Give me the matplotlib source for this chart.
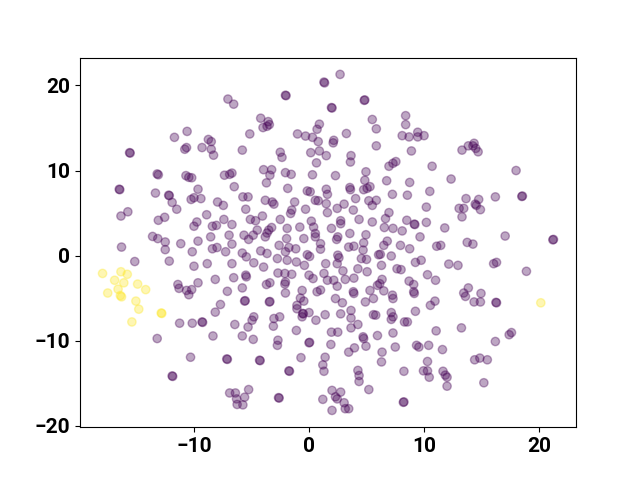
import matplotlib.pyplot as plt
import numpy as np

# t-SNE embedding
purple_pts = [
    (-10.6, 14.6), (-11.7, 13.9), (-10.65, 12.7), (-10.8, 12.5), (-9.3, 12.7), (-15.6, 12.1), (-15.55, 12.05),
    (-13.2, 9.6), (-13.1, 9.5), (-10.7, 9.4), (-10.45, 9.2), (-10.2, 9.15),
    (1.3, 20.4), (1.35, 20.3), (-2.05, 18.85), (-2.0, 18.8), (-7.05, 18.4), (-6.55, 17.8), (1.95, 17.4), (2.0, 17.35),
    (-4.2, 16.15), (-3.55, 15.75), (-4.0, 15.05), (-3.65, 15.2), (-3.45, 15.4), (-5.15, 14.3), (-1.0, 14.3),
    (-0.3, 14.05), (0.3, 13.9), (0.7, 14.85), (0.9, 15.45), (0.8, 13.4), (-8.75, 13.65), (-8.5, 13.4), (-8.5, 12.5),
    (-8.3, 11.8), (-5.8, 12.4), (-2.5, 12.15), (-2.35, 11.55), (0.15, 12.1), (0.9, 12.3), (1.5, 11.75), (0.65, 10.9),
    (-3.95, 10.1), (-3.25, 10.1), (-3.4, 9.45), (-7.35, 9.45), (-6.9, 9.55), (-6.7, 9.7), (-2.05, 9.75), (-1.55, 9.55),
    (0.3, 9.5),
    (2.7, 21.3), (4.85, 18.3), (4.8, 18.25), (5.5, 16.0), (8.4, 16.45), (8.4, 15.4), (5.85, 14.9), (3.25, 14.35),
    (8.1, 14.1), (8.7, 13.95), (9.45, 14.5), (9.45, 13.95), (10.0, 14.1), (2.15, 13.55), (2.1, 13.25), (5.85, 12.9),
    (8.9, 12.3), (3.65, 11.75), (3.6, 11.0), (7.55, 11.05), (7.3, 10.85), (6.95, 10.5), (10.7, 10.5), (4.95, 9.85),
    (4.85, 8.85), (2.3, 9.4), (6.75, 8.8), (8.75, 8.6), (12.35, 9.0),
    (13.3, 12.4), (13.85, 12.9), (14.35, 13.2), (14.25, 12.9), (14.5, 12.6), (14.7, 12.2), (18.0, 10.0),
    (-16.5, 7.8), (-16.45, 7.75), (-13.35, 7.35), (-12.2, 7.1), (-12.15, 7.05), (-11.9, 6.25), (-11.5, 5.45),
    (-16.35, 4.65), (-15.75, 5.15), (-13.1, 4.15), (-12.55, 4.5), (-9.65, 7.8), (-10.25, 6.6), (-10.0, 6.8),
    (-9.4, 6.7), (-10.0, 3.45), (-9.75, 3.95), (-13.6, 2.25), (-13.15, 2.0), (-12.5, 1.6), (-12.5, 0.7),
    (-11.15, 1.4), (-9.65, 1.7), (-10.15, 0.45), (-16.3, 1.0), (-15.15, -0.7), (-12.15, -0.65), (-10.0, -1.25),
    (-11.4, -3.4), (-11.3, -3.85), (-10.65, -4.1), (-10.2, -4.0), (-10.45, -4.6), (-9.65, -3.2),
    (-6.5, 8.1), (-3.7, 8.55), (-1.85, 7.9), (-0.15, 7.6), (0.1, 7.5), (1.5, 7.8), (1.6, 7.2), (-5.75, 6.9),
    (-5.3, 6.9), (-7.95, 6.3), (-7.45, 5.9), (-3.8, 6.5), (-3.2, 6.3), (-3.05, 6.05), (-1.25, 6.3), (-1.5, 5.35),
    (-1.6, 4.95), (-0.3, 5.45), (0.8, 6.45), (0.55, 6.5), (1.5, 6.1), (1.6, 5.05), (-5.5, 5.45), (-8.9, 4.8),
    (-7.4, 4.25), (-6.7, 3.65), (-5.1, 4.25), (-4.65, 4.1), (-4.05, 4.65), (-2.5, 4.25), (-1.9, 3.2), (-0.8, 3.35),
    (0.2, 4.05), (0.4, 3.35), (0.55, 2.6), (1.0, 1.4), (1.0, 0.75), (-8.4, 3.45), (-8.05, 3.55), (-8.55, 2.2),
    (-6.95, 2.4), (-5.65, 2.4), (-5.25, 1.9), (-4.85, 2.4), (-4.5, 3.0), (-3.65, 2.65), (-3.5, 3.0), (-3.25, 3.3),
    (-3.8, 2.2), (-1.95, 2.0), (-0.45, 2.0), (0.55, 2.2), (-8.4, 0.8), (-8.0, 0.95), (-7.25, 0.45), (-6.7, 1.35),
    (-5.8, 0.3), (-5.45, -0.15), (-4.2, 0.55), (-3.65, 0.25), (-2.6, 1.2), (-1.75, 0.95), (-1.15, 0.8),
    (-0.15, 0.1), (0.05, -0.1), (-2.05, 0.45), (-1.9, -0.55), (-8.85, -0.95), (-6.7, -0.95), (-4.8, -0.85),
    (-3.95, -1.35), (-2.75, -0.35), (-1.1, -0.75), (-0.4, -1.15), (1.45, -0.95), (-5.5, -2.3), (-5.45, -2.5),
    (-6.55, -2.6), (-8.15, -2.8), (-2.7, -2.05), (-2.1, -2.1), (-1.5, -2.2), (-2.05, -3.1), (-2.1, -3.35),
    (-3.7, -3.4), (-3.4, -3.2), (0.0, -2.3), (0.35, -2.7), (1.3, -2.1), (1.6, -2.9), (-5.8, -3.8), (-7.1, -4.2),
    (-2.05, -4.4), (-0.6, -4.1), (0.7, -4.25), (1.0, -4.05), (-5.6, -5.35), (-5.55, -5.3), (-3.45, -5.45),
    (-3.4, -5.4), (-7.7, -5.75), (-0.75, -5.0), (-0.45, -5.35), (-1.05, -5.85),
    (3.55, 8.0), (3.6, 7.75), (4.75, 7.75), (5.05, 7.9), (5.3, 8.1), (7.25, 7.2), (8.55, 7.1), (10.5, 7.55),
    (4.05, 6.7), (3.05, 6.05), (2.45, 5.55), (5.2, 6.45), (5.5, 5.9), (5.85, 6.5), (10.2, 5.7), (3.85, 5.35),
    (4.35, 4.25), (6.95, 5.05), (6.65, 4.35), (5.5, 3.95), (8.5, 4.15), (9.15, 3.7), (9.2, 3.65), (10.2, 3.9),
    (2.75, 4.1), (2.75, 3.75), (11.8, 3.25), (1.95, 3.2), (6.55, 3.3), (7.3, 3.2), (8.1, 2.9), (3.55, 2.6),
    (4.95, 2.45), (9.65, 2.2), (2.5, 2.2), (2.4, 1.9), (6.8, 1.7), (6.5, 1.2), (4.75, 1.5), (4.7, 0.65),
    (3.45, 1.0), (3.9, 1.1), (7.95, 1.2), (8.75, 0.8), (11.1, 1.1), (11.45, 1.2), (2.5, 0.05), (2.6, -0.25),
    (6.05, 0.1), (6.2, 0.15), (7.15, -0.05), (4.55, -0.35), (5.0, -0.45), (2.45, -0.95), (6.3, -1.15),
    (9.25, -0.8), (9.75, -0.55), (12.15, -1.0), (4.25, -1.55), (5.05, -1.9), (2.95, -1.8), (7.65, -1.55),
    (8.0, -1.65), (10.3, -2.25), (2.15, -2.9), (2.45, -3.6), (3.15, -2.8), (3.9, -2.65), (6.35, -2.8),
    (6.15, -3.3), (5.95, -3.5), (8.7, -3.0), (9.1, -3.4), (11.0, -2.9), (5.3, -4.1), (6.5, -4.15), (9.1, -4.25),
    (9.15, -4.45), (3.85, -4.25), (3.9, -4.45), (2.3, -5.05), (2.9, -5.55), (4.9, -5.45), (5.6, -5.05),
    (7.25, -4.65), (7.3, -5.05), (10.55, -5.85), (10.95, -5.35),
    (13.65, 6.7), (14.75, 6.6), (14.45, 6.05), (14.55, 5.9), (14.9, 5.4), (16.2, 6.9), (18.55, 7.0), (18.5, 6.95),
    (13.05, 5.55), (13.45, 5.55), (13.3, 4.55), (17.05, 2.3), (21.25, 1.9), (21.2, 1.85), (13.75, 1.55),
    (14.25, 1.35), (12.95, -1.15), (16.05, -0.95), (16.3, -0.8), (18.9, -1.85), (13.85, -3.8), (13.45, -4.4),
    (13.6, -4.8), (14.95, -4.45), (14.35, -5.45), (14.9, -5.45), (16.3, -5.55), (16.25, -5.5),
    (-11.25, -7.95), (-10.15, -7.95), (-9.3, -7.8), (-9.25, -7.85), (-13.2, -9.75), (-10.3, -11.95),
    (-11.9, -14.15), (-11.85, -14.2),
    (-8.15, -6.65), (-6.45, -8.1), (-8.35, -9.45), (-4.8, -7.2), (-4.95, -7.6), (-5.3, -8.4), (-5.8, -9.45),
    (-4.85, -9.85), (-3.05, -7.4), (-2.55, -7.2), (-3.1, -8.3), (-2.7, -9.95), (-2.75, -10.55), (-1.1, -8.8),
    (-1.05, -6.25), (-0.55, -6.8), (-0.5, -6.85), (-0.6, -7.2), (0.0, -6.7), (0.6, -7.6), (1.4, -6.95),
    (0.05, -10.2), (0.0, -10.25), (-7.1, -12.2), (-7.15, -12.15), (-4.3, -12.3), (-4.25, -12.35), (-1.75, -13.55),
    (-1.7, -13.6), (-0.7, -12.0), (1.4, -11.95), (1.2, -12.85), (1.3, -13.6), (-6.9, -16.15), (-6.4, -16.15),
    (-6.3, -16.85), (-6.25, -17.5), (-5.75, -17.55), (-5.6, -16.65), (-5.25, -15.75), (-2.6, -16.75),
    (-2.65, -16.7), (1.2, -16.9),
    (2.75, -6.85), (3.65, -6.45), (3.65, -7.35), (4.25, -8.1), (3.65, -8.5), (5.6, -6.95), (5.8, -7.0),
    (7.15, -6.7), (7.3, -7.2), (7.15, -7.5), (8.3, -7.8), (8.55, -7.8), (9.25, -6.55), (11.05, -8.85),
    (1.95, -9.0), (2.5, -9.0), (1.9, -10.45), (4.7, -9.55), (4.75, -9.75), (5.95, -9.4), (7.3, -9.1),
    (3.95, -10.85), (3.45, -11.35), (4.95, -10.65), (7.5, -10.75), (6.35, -11.35), (6.3, -12.5), (9.35, -10.55),
    (9.55, -10.75), (10.4, -10.55), (11.6, -11.05), (10.3, -12.45), (9.95, -13.55), (10.3, -13.55),
    (10.45, -14.3), (8.25, -13.6), (11.65, -13.6), (11.85, -14.05), (12.0, -14.3), (12.0, -15.35),
    (4.25, -13.5), (4.35, -14.1), (4.35, -14.8), (5.2, -15.75), (2.0, -15.85), (2.75, -16.05), (2.3, -16.6),
    (2.45, -16.85), (3.05, -17.3), (3.15, -18.0), (3.45, -18.0), (2.0, -18.2), (8.25, -17.2), (8.2, -17.25),
    (13.25, -8.5), (16.2, -10.1), (17.4, -9.3), (17.6, -9.05), (14.4, -12.25), (14.85, -12.05), (15.5, -12.25),
    (15.2, -14.95),
]

yellow_pts = [
    (-17.95, -2.1), (-16.35, -1.9), (-15.8, -2.2), (-16.9, -2.9), (-16.1, -3.2), (-16.6, -3.95), (-16.3, -4.85),
    (-16.4, -4.7), (-17.5, -4.4), (-14.9, -3.35), (-14.2, -4.0), (-15.05, -5.35), (-14.8, -6.3), (-12.85, -6.75),
    (-12.8, -6.8), (-15.4, -7.8), (20.15, -5.55),
]

pts = np.array(purple_pts + yellow_pts)
labels = np.array([0] * len(purple_pts) + [1] * len(yellow_pts))

plt.rcParams["font.family"] = ["Roboto", "DejaVu Sans"]
plt.rcParams["font.weight"] = "bold"
plt.rcParams["font.size"] = 15

fig, ax = plt.subplots(figsize=(6.4, 4.8), dpi=100)
ax.scatter(pts[:, 0], pts[:, 1], c=labels, cmap="viridis", alpha=0.35)

fig.savefig("out.png")
